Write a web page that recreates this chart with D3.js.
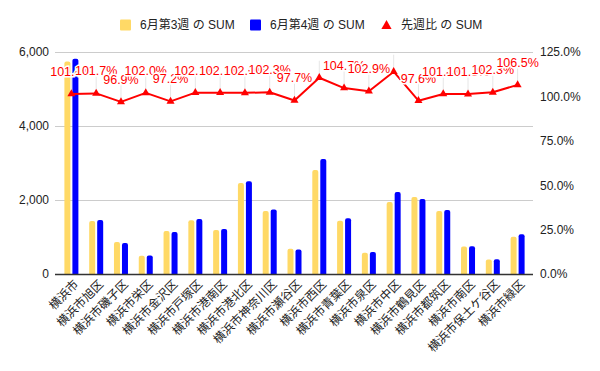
<!DOCTYPE html>
<html><head><meta charset="utf-8">
<script src="https://cdn.jsdelivr.net/npm/d3@7/dist/d3.min.js"></script>
<style>
body{margin:0;background:#fff;}
text{font-family:"Liberation Sans",Arial,"Noto Sans CJK JP",sans-serif;}
</style></head>
<body><svg id="c" width="600" height="371"></svg>
<script>
const categories = ["横浜市","横浜市旭区","横浜市磯子区","横浜市栄区","横浜市金沢区","横浜市戸塚区","横浜市港南区","横浜市港北区","横浜市神奈川区","横浜市瀬谷区","横浜市西区","横浜市青葉区","横浜市泉区","横浜市中区","横浜市鶴見区","横浜市都筑区","横浜市南区","横浜市保土ケ谷区","横浜市緑区"];
const week3 = [5740,1435,865,492,1165,1455,1190,2460,1705,680,2810,1440,575,1946,2080,1705,740,390,1010];
const week4 = [5820,1460,838,502,1132,1486,1215,2510,1745,665,3105,1508,592,2216,2030,1730,750,400,1075];
const ratio = [101.4,101.7,96.9,102.0,97.2,102.1,102.1,102.0,102.3,97.7,110.5,104.7,102.9,113.9,97.6,101.4,101.3,102.3,106.5];
const leftTicks = [0,2000,4000,6000];
const rightTicks = [0,25,50,75,100,125];
const seriesNames = ["6月第3週 の SUM","6月第4週 の SUM","先週比 の SUM"];
const colors = ["#FFD966","#0000FF","#FF0000"];

const svg = d3.select("#c");
const L = 55, R = 533, T = 52, B = 274;
const x = d3.scaleBand().domain(categories).range([59,530]).padding(0);
const x1 = d3.scaleBand().domain([0,1]).range([-7,7]).paddingInner(0.25);
const yL = d3.scaleLinear().domain([0,6000]).range([B,T]);
const yR = d3.scaleLinear().domain([0,125]).range([B,T]);
const cx = d => x(d) + x.bandwidth()/2;

// gridlines
svg.append("g").selectAll("line").data(leftTicks.filter(t=>t>0)).join("line")
  .attr("x1",L).attr("x2",R).attr("y1",d=>yL(d)).attr("y2",d=>yL(d))
  .attr("stroke","#cccccc").attr("stroke-width",1).attr("shape-rendering","crispEdges");

// left axis
const axL = d3.axisLeft(yL).tickValues(leftTicks).tickFormat(d3.format(",")).tickSize(0).tickPadding(6);
svg.append("g").attr("transform",`translate(${L},0)`).call(axL)
  .call(g=>g.select(".domain").remove())
  .selectAll("text").attr("font-size",12).attr("fill","#222").style("font-family","Liberation Sans, Arial");
// right axis
const axR = d3.axisRight(yR).tickValues(rightTicks).tickFormat(d=>d.toFixed(1)+"%").tickSize(0).tickPadding(7);
svg.append("g").attr("transform",`translate(${R},0)`).call(axR)
  .call(g=>g.select(".domain").remove())
  .selectAll("text").attr("font-size",12).attr("fill","#222").style("font-family","Liberation Sans, Arial");

// bars with rounded tops
function barPath(x0,w,yTop,yBot){
  const r = Math.min(2,(yBot-yTop));
  return `M${x0},${yBot}V${yTop+r}Q${x0},${yTop} ${x0+r},${yTop}H${x0+w-r}Q${x0+w},${yTop} ${x0+w},${yTop+r}V${yBot}Z`;
}
[week3,week4].forEach((vals,si)=>{
  svg.append("g").selectAll("path").data(categories).join("path")
    .attr("d",(d,i)=>barPath(cx(d)+x1(si),x1.bandwidth(),yL(vals[i]),yL(0)))
    .attr("fill",colors[si]);
});

// baseline
svg.append("line").attr("x1",L).attr("x2",R).attr("y1",B+0.5).attr("y2",B+0.5)
  .attr("stroke","#333").attr("stroke-width",1.5);

// stems
svg.append("g").selectAll("line").data(categories).join("line")
  .attr("x1",cx).attr("x2",cx)
  .attr("y1",(d,i)=>yR(ratio[i])).attr("y2",(d,i)=>yR(ratio[i])-17)
  .attr("stroke","#e6e6e6").attr("stroke-width",1);

// line
const line = d3.line().x((d,i)=>cx(categories[i])).y(d=>yR(d));
svg.append("path").datum(ratio).attr("d",line).attr("fill","none")
  .attr("stroke",colors[2]).attr("stroke-width",2).attr("stroke-linejoin","round");
const tri = d3.symbol().type(d3.symbolTriangle).size(28);
svg.append("g").selectAll("path").data(ratio).join("path")
  .attr("d",tri).attr("transform",(d,i)=>`translate(${cx(categories[i])},${yR(d)})`)
  .attr("fill",colors[2]);

// labels (skip hidden ones)
const hidden = new Set([10,13]);
const lg = svg.append("g");
ratio.forEach((v,i)=>{
  if(hidden.has(i)) return;
  lg.append("text").attr("x",cx(categories[i])).attr("y",yR(v)-18)
    .attr("text-anchor","middle").attr("font-size",12.5).attr("fill",colors[2])
    .attr("stroke","#fff").attr("stroke-width",3).attr("paint-order","stroke")
    .text(v.toFixed(1)+"%");
});

// x labels
svg.append("g").selectAll("text").data(categories).join("text")
  .attr("transform",d=>`translate(${cx(d)+5},${B+8}) rotate(-45)`)
  .attr("text-anchor","end").attr("dy","0.35em").attr("font-size",12).attr("fill","#222")
  .text(d=>d);

// legend
const leg = svg.append("g");
const legX = [120,250,381];
seriesNames.forEach((n,i)=>{
  if(i<2){
    leg.append("rect").attr("x",legX[i]).attr("y",19.5).attr("width",11).attr("height",11).attr("rx",1).attr("fill",colors[i]);
  } else {
    leg.append("path").attr("d",d3.symbol().type(d3.symbolTriangle).size(45))
      .attr("transform",`translate(${legX[i]+5.5},${26})`).attr("fill",colors[i]);
  }
  leg.append("text").attr("x",legX[i]+20).attr("y",25).attr("dy","0.35em")
    .attr("font-size",12).attr("fill","#222").text(n);
});
</script></body></html>
